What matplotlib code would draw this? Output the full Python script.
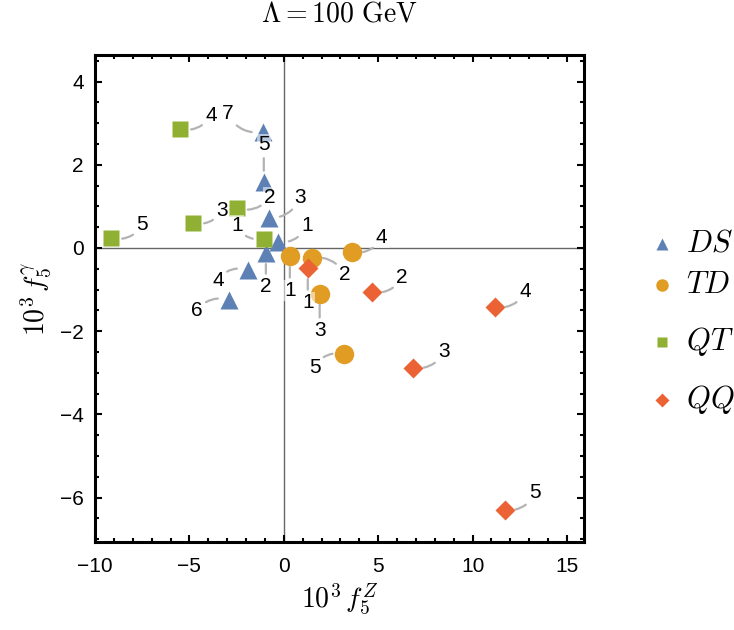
import matplotlib
matplotlib.use('Agg')
import matplotlib.pyplot as plt
from matplotlib.lines import Line2D
from matplotlib.ticker import MultipleLocator

plt.rcParams['font.family'] = ['Liberation Sans', 'DejaVu Sans']
plt.rcParams['mathtext.fontset'] = 'cm'

# data (10^3 f5^Z, 10^3 f5^gamma)
ds_x = [-0.32, -0.95, -0.79, -1.9, -1.06, -2.91, -1.11]
ds_y = [0.14, -0.12, 0.72, -0.53, 1.59, -1.25, 2.79]
ds_lab = ['1', '2', '3', '4', '5', '6', '7']

td_x = [0.32, 1.48, 1.9, 3.6, 3.17]
td_y = [-0.19, -0.24, -1.1, -0.1, -2.55]
td_lab = ['1', '2', '3', '4', '5']

qt_x = [-1.06, -2.49, -4.81, -5.5, -9.15]
qt_y = [0.22, 0.96, 0.6, 2.86, 0.24]
qt_lab = ['1', '2', '3', '4', '5']

qq_x = [1.27, 4.66, 6.83, 11.16, 11.7]
qq_y = [-0.48, -1.06, -2.88, -1.42, -6.3]
qq_lab = ['1', '2', '3', '4', '5']

series_names = ['DS', 'TD', 'QT', 'QQ']

# label offsets in pixels (dx, dy with dy up)
ds_off = [(29, 17), (0, -34), (31, 21), (-30, -10), (0, 37), (-32, -11), (-35, 18)]
td_off = [(0, -35), (33, -17), (0, -37), (30, 15), (-29, -13)]
qt_off = [(-27, 13), (33, 11), (29, 13), (31, 14), (31, 13)]
qq_off = [(0, -35), (30, 15), (31, 16), (31, 16), (30, 17)]

blue = '#5e81b5'
orange = '#e19c24'
green = '#8fb032'
red = '#eb6235'

fig = plt.figure(figsize=(7.34, 6.30), dpi=100)
ax = fig.add_axes([95 / 734, 88 / 630, 489 / 734, 487 / 630])

ax.axhline(0, color='#666666', lw=1.0, zorder=1)
ax.axvline(0, color='#666666', lw=1.0, zorder=1)

styles = [
    (ds_x, ds_y, ds_lab, ds_off, blue, '^', 12.5),
    (td_x, td_y, td_lab, td_off, orange, 'o', 14),
    (qt_x, qt_y, qt_lab, qt_off, green, 's', 11.5),
    (qq_x, qq_y, qq_lab, qq_off, red, 'D', 10.5),
]

for xs, ys, labs, offs, col, mk, ms in styles:
    ax.plot(xs, ys, ls='none', marker=mk, color=col, ms=ms, mec='none', zorder=3)
    for x, y, lab, (dx, dy) in zip(xs, ys, labs, offs):
        if dx == 0:
            cs = 'arc3,rad=0'
        else:
            cs = 'arc3,rad=%s' % (-0.35 if dx * dy > 0 else 0.35)
        ax.annotate(lab, (x, y), xytext=(dx, dy), textcoords='offset pixels',
                    ha='center', va='center', fontsize=15, zorder=4,
                    bbox=dict(boxstyle='square,pad=0.05', fc='white', ec='none', alpha=0.55),
                    arrowprops=dict(arrowstyle='-', color='#b3b3b3', lw=1.6,
                                    shrinkA=2, shrinkB=8, connectionstyle=cs))

ax.set_xlim(-10, 15.9)
ax.set_ylim(-7.07, 4.64)
ax.xaxis.set_major_locator(MultipleLocator(5))
ax.xaxis.set_minor_locator(MultipleLocator(1))
ax.yaxis.set_major_locator(MultipleLocator(2))
ax.yaxis.set_minor_locator(MultipleLocator(0.5))
ax.tick_params(which='both', direction='in', top=True, right=True, labelsize=15, width=1.5)
ax.tick_params(which='major', length=5, pad=8)
ax.tick_params(axis='x', which='major', pad=11)
ax.tick_params(which='minor', length=3)
for sp in ax.spines.values():
    sp.set_linewidth(2.2)

fig.text(0.5 * (95 + 584) / 734, 1 - 15 / 630, r'$\Lambda = 100\ \mathrm{GeV}$',
         fontsize=20, ha='center', va='center')
ax.set_xlabel(r'$10^3\, f_5^{Z}$', fontsize=20, labelpad=4)
ax.set_ylabel(r'$10^3\, f_5^{\gamma}$', fontsize=20, labelpad=4)

# legend on the right
leg_y = [244, 285, 342, 400]
leg_style = [(blue, '^', 8), (orange, 'o', 9), (green, 's', 7), (red, 'D', 7)]
for name, yy, (col, mk, ms) in zip(series_names, leg_y, leg_style):
    fy = 1 - yy / 630
    fig.add_artist(Line2D([662 / 734], [fy], marker=mk, color=col, ms=ms, mec='none',
                          ls='none', transform=fig.transFigure))
    fig.text(686 / 734, fy, '$%s$' % name, fontsize=22, va='center', ha='left')

fig.savefig('out.png', dpi=100)
